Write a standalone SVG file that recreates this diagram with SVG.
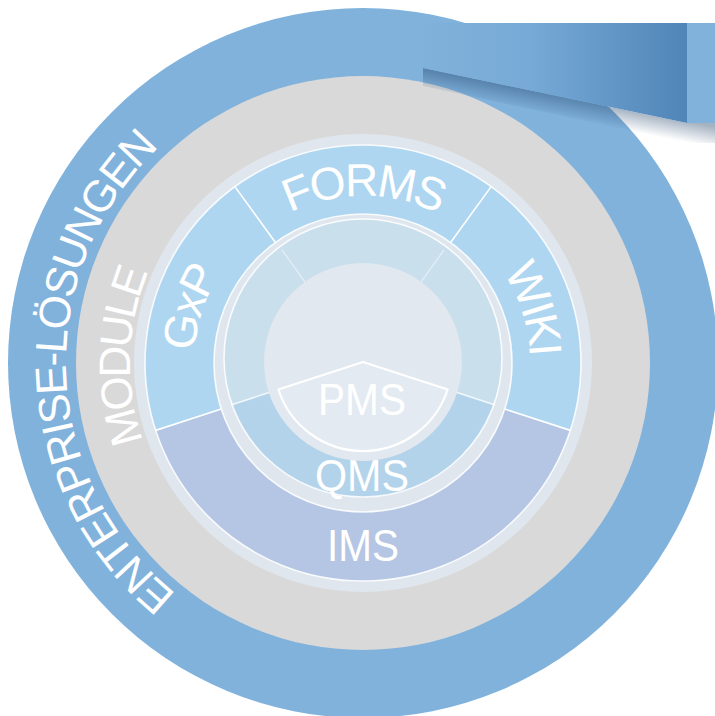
<svg xmlns="http://www.w3.org/2000/svg" width="715" height="716" viewBox="0 0 715 716">
<defs>
<style>
.lbl{font-family:"Liberation Sans",Arial,sans-serif;fill:#ffffff;}
.seg{fill:#aed6f1;}
.div{stroke:#ffffff;stroke-width:1.6;fill:none;}
.fdiv{stroke:#ffffff;stroke-width:1.4;fill:none;opacity:0.45;}
.edge{stroke:#ffffff;stroke-width:1.6;fill:none;opacity:0.85;}
</style>
<linearGradient id="rib" x1="0" y1="0" x2="1" y2="0">
<stop offset="0" stop-color="#80b1db"/>
<stop offset="0.4" stop-color="#77aad6"/>
<stop offset="1" stop-color="#5085b8"/>
</linearGradient>
<linearGradient id="sh" gradientUnits="userSpaceOnUse" x1="555" y1="95.5" x2="551" y2="116">
<stop offset="0" stop-color="#1d3f66" stop-opacity="0.4"/>
<stop offset="1" stop-color="#1d3f66" stop-opacity="0"/>
</linearGradient>
<path id="pEnt" d="M 261.42 642.09 A 297 297 0 0 1 261.42 83.91"/>
<path id="pMod" d="M 283.31 581.95 A 233 233 0 0 1 283.31 144.05"/>
<path id="pGxp" d="M 255.47 490.88 A 166 166 0 0 1 348.44 196.64"/>
<path id="pForms" d="M 206.07 305.88 A 167 167 0 0 1 519.93 305.88"/>
<path id="pWiki" d="M 368.83 196.10 A 167 167 0 0 1 465.82 494.60"/>
</defs>

<g id="enterprise">
<circle cx="363" cy="363" r="355" fill="#80b2dc"/>
<text class="lbl" font-size="44" letter-spacing="-2"><textPath href="#pEnt" startOffset="48.3%" text-anchor="middle">ENTERPRISE-LÖSUNGEN</textPath></text>
</g>

<g id="module">
<circle cx="363" cy="363" r="287" fill="#d9d9d9"/>
<circle cx="363" cy="363" r="229" fill="#dfe6ee"/>
<text class="lbl" font-size="44" letter-spacing="-3"><textPath href="#pMod" startOffset="51%" text-anchor="middle">MODULE</textPath></text>
</g>

<g id="gxp">
<path class="seg" d="M 155.67 430.37 A 218 218 0 0 1 234.86 186.63 L 275.42 242.46 A 149 149 0 0 0 221.29 409.04 Z"/>
<text class="lbl" font-size="46" letter-spacing="-3"><textPath href="#pGxp" startOffset="50%" text-anchor="middle">GxP</textPath></text>
</g>

<g id="forms">
<path class="seg" d="M 234.86 186.63 A 218 218 0 0 1 491.14 186.63 L 450.58 242.46 A 149 149 0 0 0 275.42 242.46 Z"/>
<text class="lbl" font-size="46" letter-spacing="-3"><textPath href="#pForms" startOffset="50%" text-anchor="middle">FORMS</textPath></text>
</g>

<g id="wiki">
<path class="seg" d="M 491.14 186.63 A 218 218 0 0 1 570.33 430.37 L 504.71 409.04 A 149 149 0 0 0 450.58 242.46 Z"/>
<text class="lbl" font-size="46" letter-spacing="-3"><textPath href="#pWiki" startOffset="50%" text-anchor="middle">WIKI</textPath></text>
</g>

<g id="ims">
<path fill="#b4c6e4" d="M 570.33 430.37 A 218 218 0 0 1 155.67 430.37 L 221.29 409.04 A 149 149 0 0 0 504.71 409.04 Z"/>
<text class="lbl" x="363" y="561" font-size="44" text-anchor="middle" textLength="72" lengthAdjust="spacingAndGlyphs">IMS</text>
</g>

<g id="qms">
<circle cx="363" cy="363" r="149" fill="#dfe6ee"/>
<circle cx="363" cy="358" r="139" fill="#c9dfec"/>
<path fill="#b3d3ea" d="M 363 362 L 493.96 404.55 A 139 139 0 0 1 232.04 404.55 Z"/>
<circle class="edge" cx="363" cy="358" r="139" opacity="0.5"/>
<text class="lbl" x="362" y="491" font-size="44" text-anchor="middle" textLength="94" lengthAdjust="spacingAndGlyphs">QMS</text>
</g>

<g id="pms">
<circle cx="363" cy="362" r="99" fill="#e1e8f0"/>
<path d="M 363 362 L 447.64 389.5 A 89 89 0 0 1 278.36 389.5 Z" fill="#e3eaf1" stroke="#ffffff" stroke-width="2.2" stroke-linejoin="round"/>
<text class="lbl" x="362" y="415" font-size="44" text-anchor="middle" textLength="88" lengthAdjust="spacingAndGlyphs">PMS</text>
</g>

<g id="connectors">
<circle class="edge" cx="363" cy="363" r="218"/>
<circle class="edge" cx="363" cy="363" r="149"/>
<line class="div" x1="570.33" y1="430.37" x2="504.71" y2="409.04"/>
<line class="div" x1="155.67" y1="430.37" x2="221.29" y2="409.04"/>
<line class="div" x1="234.86" y1="186.63" x2="275.42" y2="242.46"/>
<line class="div" x1="491.14" y1="186.63" x2="450.58" y2="242.46"/>
<line class="div" opacity="0.8" x1="231" y1="405" x2="269" y2="392.6"/>
<line class="div" opacity="0.8" x1="495" y1="405" x2="457" y2="392.6"/>
<line class="fdiv" x1="282" y1="250" x2="305" y2="282"/>
<line class="fdiv" x1="444" y1="250" x2="421" y2="282"/>
</g>

<g id="ribbon">
<polygon points="423,68 687,123 715,123 715,143 687,143 423,86" fill="url(#sh)"/>
<rect x="687" y="23" width="28" height="100" fill="#80b2dc"/>
<polygon points="423,23 687,23 687,123 423,68" fill="url(#rib)"/>
</g>
</svg>
